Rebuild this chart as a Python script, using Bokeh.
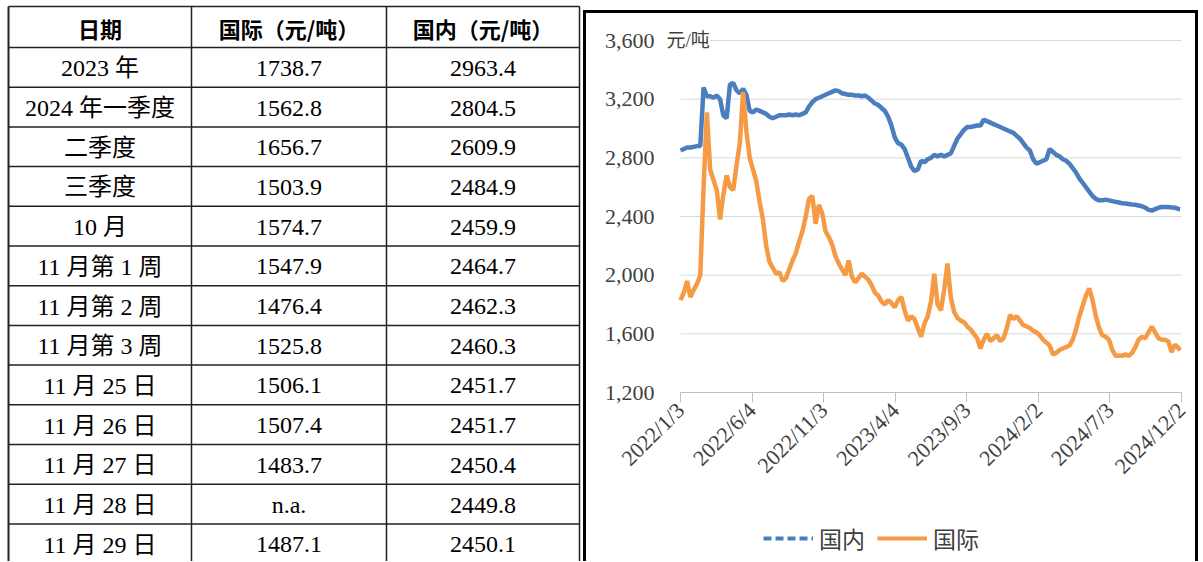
import numpy as np
import pandas as pd
from bokeh.plotting import figure
from bokeh.layouts import row, column
from bokeh.models import (Range1d, FixedTicker, CustomJSTickFormatter, NumeralTickFormatter,
                          Legend, LegendItem, Label)
from bokeh.core.properties import value
from bokeh.embed import file_html
from bokeh.resources import INLINE

# ---------------- table data ----------------
table_headers = ["日期", "国际（元/吨）", "国内（元/吨）"]
row_labels = ["2023 年", "2024 年一季度", "二季度", "三季度", "10 月", "11 月第 1 周", "11 月第 2 周",
              "11 月第 3 周", "11 月 25 日", "11 月 26 日", "11 月 27 日", "11 月 28 日", "11 月 29 日"]
intl_price_text = ["1738.7", "1562.8", "1656.7", "1503.9", "1574.7", "1547.9", "1476.4",
                   "1525.8", "1506.1", "1507.4", "1483.7", "n.a.", "1487.1"]
dom_price_text = ["2963.4", "2804.5", "2609.9", "2484.9", "2459.9", "2464.7", "2462.3",
                  "2460.3", "2451.7", "2451.7", "2450.4", "2449.8", "2450.1"]

# ---------------- chart data ----------------
first_date = "2022-01-03"
last_date = "2024-11-29"
axis_start, axis_end = "2022-01-03", "2024-12-02"
x_tick_dates = ["2022-01-03", "2022-06-04", "2022-11-03", "2023-04-04",
                "2023-09-03", "2024-02-02", "2024-07-03", "2024-12-02"]
y_ticks = [1200, 1600, 2000, 2400, 2800, 3200, 3600]
unit_text = "元/吨"
legend_labels = ["国内", "国际"]

domestic = [2850, 2860, 2870, 2870, 2875, 2880, 2880, 3280, 3220, 3220,
            3210, 3225, 3200, 3090, 3070, 3300, 3310, 3260, 3240, 3270,
            3230, 3120, 3110, 3130, 3120, 3110, 3100, 3080, 3070, 3080,
            3090, 3090, 3090, 3095, 3090, 3095, 3090, 3100, 3110, 3150,
            3180, 3200, 3210, 3220, 3230, 3240, 3250, 3260, 3255, 3240,
            3235, 3230, 3230, 3225, 3225, 3220, 3225, 3210, 3190, 3170,
            3160, 3140, 3120, 3080, 3020, 2940, 2900, 2890, 2860, 2800,
            2740, 2710, 2720, 2780, 2770, 2790, 2800, 2820, 2810, 2820,
            2810, 2820, 2830, 2880, 2930, 2960, 2990, 3010, 3010, 3015,
            3020, 3020, 3060, 3050, 3040, 3030, 3020, 3010, 3000, 2990,
            2980, 2970, 2950, 2930, 2900, 2870, 2850, 2790, 2760, 2770,
            2780, 2790, 2860, 2840, 2820, 2810, 2790, 2780, 2760, 2730,
            2700, 2660, 2630, 2600, 2570, 2540, 2520, 2510, 2510, 2515,
            2510, 2505, 2500, 2495, 2490, 2488, 2485, 2482, 2480, 2475,
            2470, 2460, 2445, 2440, 2450, 2460, 2465, 2465, 2464, 2462,
            2460, 2452, 2450.1]

international = [1830, 1880, 1960, 1850, 1900, 1940, 2000, 2600, 3110, 2720,
                 2650, 2580, 2380, 2550, 2680, 2600, 2580, 2750, 2900, 3250,
                 2980, 2800, 2720, 2640, 2500, 2380, 2200, 2090, 2050, 2010,
                 2020, 1960, 1980, 2040, 2100, 2150, 2230, 2300, 2400, 2520,
                 2540, 2350, 2480, 2420, 2300, 2260, 2210, 2130, 2080, 2040,
                 2000, 2100, 1990, 1950, 1980, 2010, 1990, 1970, 1930, 1880,
                 1860, 1820, 1800, 1830, 1810, 1780, 1830, 1850, 1760, 1690,
                 1720, 1700, 1640, 1580, 1670, 1720, 1820, 2010, 1800, 1760,
                 1900, 2080, 1850, 1750, 1710, 1690, 1680, 1650, 1630, 1600,
                 1570, 1500, 1560, 1600, 1550, 1570, 1590, 1550, 1570, 1640,
                 1730, 1700, 1720, 1690, 1660, 1650, 1640, 1620, 1610, 1590,
                 1560, 1540, 1520, 1460, 1470, 1490, 1500, 1510, 1520, 1560,
                 1630, 1720, 1790, 1860, 1910, 1830, 1720, 1640, 1590, 1580,
                 1560, 1490, 1450, 1450, 1450, 1460, 1450, 1470, 1510, 1560,
                 1580, 1570, 1610, 1650, 1610, 1570, 1560, 1560, 1548, 1476,
                 1526, 1506, 1487.1]

dates = list(pd.date_range(first_date, periods=len(domestic) - 1, freq="7D")) + [pd.Timestamp(last_date)]

BLUE = "#4a7ebf"
ORANGE = "#f59a45"
SERIF_CJK = "Liberation Serif, Noto Sans CJK SC"
PAGE_H = 561

# ---------------- table figure ----------------
TW = 583
col_edges = [8, 191, 386, 579]
header_top, header_bottom = 6, 47
row_h = 39.7

t = figure(width=TW, height=PAGE_H, x_range=Range1d(0, TW), y_range=Range1d(PAGE_H, 0),
           toolbar_location=None, output_backend="svg", min_border=0,
           x_axis_location=None, y_axis_location=None, outline_line_color=None)
t.grid.visible = False

h_lines = [header_top, header_bottom] + [header_bottom + row_h * (k + 1) for k in range(len(row_labels))]
t.segment(x0=col_edges[0], x1=col_edges[-1], y0=h_lines, y1=h_lines, line_color="#222222", line_width=1.5)
t.segment(x0=col_edges, x1=col_edges, y0=header_top, y1=PAGE_H, line_color="#222222",
          line_width=[2, 1.5, 1.5, 1.5])

col_centers = [(col_edges[i] + col_edges[i + 1]) / 2 for i in range(3)]
t.text(x=col_centers, y=(header_top + header_bottom) / 2 + 1, text=table_headers,
       text_font=value("Noto Sans CJK SC"), text_font_style="bold", text_font_size="22px",
       text_align="center", text_baseline="middle", text_color="black")

cell_x, cell_y, cell_t = [], [], []
for k in range(len(row_labels)):
    yc = header_bottom + row_h * (k + 0.5) + 1
    for ci, col in enumerate([row_labels, intl_price_text, dom_price_text]):
        cell_x.append(col_centers[ci])
        cell_y.append(yc)
        cell_t.append(col[k])
t.text(x=cell_x, y=cell_y, text=cell_t, text_font=value(SERIF_CJK), text_font_size="24px",
       text_align="center", text_baseline="middle", text_color="black")

# ---------------- chart figure ----------------
CW, CH, LH = 609, 480, 68          # chart canvas, legend canvas
B_LEFT, B_RIGHT, B_TOP, B_BOTTOM = 64, 14, 7, 101
lead_px = 30                       # frame starts this far left of the first date
top_pad_px = 20                    # frame top lies above the 3,600 line
frame_w = CW - B_LEFT - B_RIGHT
frame_h = CH - B_TOP - B_BOTTOM
t0, t1 = pd.Timestamp(axis_start), pd.Timestamp(axis_end)
span = t1 - t0
x_start = t0 - span * (lead_px / (frame_w - lead_px))
units_per_px = (y_ticks[-1] - y_ticks[0]) / (frame_h - top_pad_px)
y_end = y_ticks[-1] + top_pad_px * units_per_px

p = figure(width=CW, height=CH, x_axis_type="datetime",
           x_range=Range1d(x_start, t1), y_range=Range1d(y_ticks[0], y_end),
           toolbar_location=None, output_backend="svg",
           min_border_left=B_LEFT, min_border_right=B_RIGHT,
           min_border_top=B_TOP, min_border_bottom=B_BOTTOM,
           outline_line_color=None)

t0_ms = t0.value // 10**6
t1_ms = t1.value // 10**6
p.xaxis.ticker = FixedTicker(ticks=[pd.Timestamp(d).value // 10**6 for d in x_tick_dates])
p.xaxis.formatter = CustomJSTickFormatter(code="""
const d = new Date(tick);
return d.getUTCFullYear() + "/" + (d.getUTCMonth() + 1) + "/" + d.getUTCDate();
""")
p.xaxis.bounds = (t0_ms, t1_ms)
p.xaxis.major_label_orientation = np.pi / 4
p.xaxis.axis_line_color = "#bfbfbf"
p.xaxis.major_tick_line_color = "#bfbfbf"
p.xaxis.major_tick_in = 0
p.xaxis.major_tick_out = 10
p.xaxis.minor_tick_line_color = None
p.xaxis.major_label_standoff = 4
p.xaxis.major_label_text_font = "Liberation Serif"
p.xaxis.major_label_text_font_size = "22px"
p.xaxis.major_label_text_color = "#404040"

p.yaxis.ticker = FixedTicker(ticks=y_ticks)
p.yaxis.formatter = NumeralTickFormatter(format="0,0")
p.yaxis.axis_line_color = None
p.yaxis.major_tick_line_color = None
p.yaxis.minor_tick_line_color = None
p.yaxis.major_label_standoff = -10
p.yaxis.major_label_text_font = "Liberation Serif"
p.yaxis.major_label_text_font_size = "22px"
p.yaxis.major_label_text_color = "#404040"

p.grid.visible = False
p.segment(x0=t0, x1=t1, y0=y_ticks[1:], y1=y_ticks[1:], line_color="#d9d9d9", line_width=1)

p.line(dates, domestic, line_color=BLUE, line_width=4.5)
p.line(dates, international, line_color=ORANGE, line_width=4.5)

unit = Label(x=t0_ms, y=y_ticks[-1], x_offset=-14, text=unit_text,
             text_font=SERIF_CJK, text_font_size="19px", text_baseline="middle", text_align="left",
             text_color="#404040", background_fill_color="white")
p.add_layout(unit)

# ---------------- legend strip ----------------
# keys reuse the series (they fall outside this strip's ranges, so only the legend shows)
lg = figure(width=CW, height=LH, x_range=Range1d(0, 1), y_range=Range1d(0, 1),
            toolbar_location=None, output_backend="svg", min_border=0,
            x_axis_location=None, y_axis_location=None, outline_line_color=None)
lg.grid.visible = False
k_dom = lg.line(x=[d.value // 10**6 for d in dates], y=domestic, line_color=BLUE, line_width=4,
                line_dash="8 4")
k_int = lg.line(x=[d.value // 10**6 for d in dates], y=international, line_color=ORANGE, line_width=4)
legend = Legend(items=[LegendItem(label=legend_labels[0], renderers=[k_dom]),
                       LegendItem(label=legend_labels[1], renderers=[k_int])],
                location=(177, 6), orientation="horizontal", glyph_width=50, glyph_height=20,
                label_standoff=6, spacing=12, padding=2, margin=0,
                label_text_font="Noto Sans CJK SC", label_text_font_size="23px",
                label_text_color="#404040", border_line_color=None, background_fill_alpha=0)
lg.add_layout(legend)

for fig in (t, p, lg):
    if "frame_align" in fig.properties():
        fig.frame_align = False

panel = column(p, lg, styles={"border-top": "3px solid black", "border-left": "3px solid black",
                              "border-right": "3px solid black"})
panel.margin = (10, 0, 0, 0)

layout = row(t, panel)
with open("out.html", "w", encoding="utf-8") as f:
    f.write(file_html(layout, INLINE))
